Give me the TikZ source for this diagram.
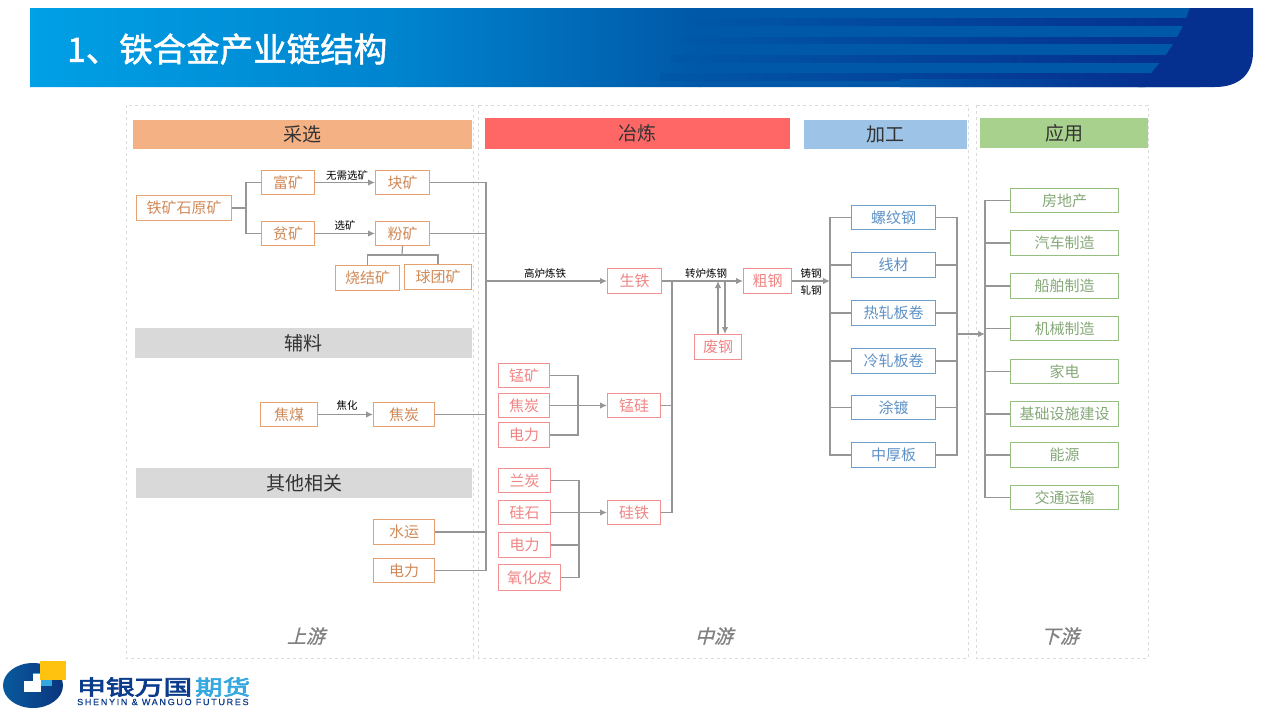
\documentclass[tikz,border=0pt]{standalone}
\usepackage{fontspec}
\usetikzlibrary{arrows.meta,calc}
\setmainfont{Noto Sans CJK SC}
\newfontfamily\slantcjk[FakeSlant=0.25,FakeBold=0.6]{Noto Sans CJK SC}
\newfontfamily\boldcjk[FakeBold=1.5]{Noto Sans CJK SC}
\newfontfamily\logocjk[FakeBold=3]{Noto Sans CJK SC}
\newfontfamily\latinbold[LetterSpace=19,FakeBold=0.5]{Liberation Sans}
\definecolor{orangeB}{HTML}{E6A06E}\definecolor{orangeT}{HTML}{D08A58}
\definecolor{pinkB}{HTML}{F09090}\definecolor{pinkT}{HTML}{F08585}
\definecolor{blueB}{HTML}{6F9FCB}\definecolor{blueT}{HTML}{5F92C6}
\definecolor{greenB}{HTML}{95BF80}\definecolor{greenT}{HTML}{85A878}
\definecolor{wire}{HTML}{969696}
\definecolor{bdark}{HTML}{05308F}\definecolor{bmid}{HTML}{0058A8}
\definecolor{blight}{HTML}{00A0E6}\definecolor{bhalf}{HTML}{0084CE}
\definecolor{hOrange}{HTML}{F4B183}\definecolor{hRed}{HTML}{FF6666}
\definecolor{hBlue}{HTML}{9DC3E6}\definecolor{hGreen}{HTML}{A9D18E}\definecolor{hGray}{HTML}{D9D9D9}
\definecolor{logoDark}{HTML}{0B3C8C}\definecolor{logoSky}{HTML}{35A8E0}\definecolor{logoYel}{HTML}{FFC20E}
\tikzset{
  boxbase/.style={draw,fill=white,line width=1pt,inner sep=0pt,font=\fontsize{15}{15}\selectfont},
  obox/.style={boxbase,draw=orangeB,text=orangeT},
  pbox/.style={boxbase,draw=pinkB,text=pinkT},
  bbox/.style={boxbase,draw=blueB,text=blueT},
  gbox/.style={boxbase,draw=greenB,text=greenT},
  head/.style={inner sep=0pt,text=black!80,font=\fontsize{19}{19}\selectfont},
  panel/.style={draw=black!14,dashed,line width=0.7pt,fill=white},
  wirel/.style={draw=wire,line width=1.2pt},
  arr/.style={wirel,-{Latex[length=7pt,width=6.5pt]}},
  tag/.style={inner sep=0pt,text=black,font=\fontsize{10.5}{10.5}\selectfont},
  stream/.style={inner sep=0pt,text=black!50,font=\fontsize{19}{19}\selectfont\slantcjk},
  stripe/.style={left color=bmid,middle color=bdark!85!bmid,right color=bdark},
}
\newcommand{\bx}[7]{\node[#6,minimum width={(#4-#2-1)*1pt},minimum height={(#5-#3-1)*1pt}] (#1) at ({(#2+#4)/2},{(#3+#5)/2}) {#7};}
\newcommand{\hd}[7]{\node[head,fill=#6,minimum width={(#4-#2)*1pt},minimum height={(#5-#3)*1pt}] (#1) at ({(#2+#4)/2},{(#3+#5)/2}) {#7};}
\begin{document}
\begin{tikzpicture}[x=1pt,y=-1pt]
\useasboundingbox (0,0) rectangle (1280,720);
\fill[white] (0,0) rectangle (1280,720);
% banner
\begin{scope}
\clip (30,8) -- (1253,8) -- (1253,52) .. controls (1253,75) and (1238,87) .. (1215,87) -- (30,87) -- cycle;
\shade[left color=blight,right color=bhalf] (30,8) rectangle (400,88);
\shade[left color=bhalf,right color=bmid] (399,8) rectangle (700,88);
\fill[bmid] (699,8) rectangle (1200,88);
\shade[stripe] (690,18) rectangle (1186,25);
\shade[stripe] (680,37) rectangle (1180,43);
\shade[stripe] (670,55) rectangle (1165,62);
\shade[stripe] (660,73) rectangle (1150,80);
\shade[stripe] (900,79.5) rectangle (1145,88);
\fill[bdark] (1190,7) -- (1254,7) -- (1254,88) -- (1137,88) .. controls (1160,65) and (1180,40) .. (1190,7) -- cycle;
\end{scope}
\node[inner sep=0pt,anchor=west,text=white,font=\fontsize{33.5}{33.5}\selectfont\boldcjk] (title) at (67,49) {1、铁合金产业链结构};
% panels
\path[panel] (126,105) rectangle (473,658);
\path[panel] (478,105) rectangle (968,658);
\path[panel] (976,105) rectangle (1148,658);
% headers
\hd{hA}{133}{120}{472}{149}{hOrange}{采选}
\hd{hB}{135}{328}{472}{358}{hGray}{辅料}
\hd{hC}{136}{468}{472}{498}{hGray}{其他相关}
\hd{hD}{485}{118}{790}{149}{hRed}{冶炼}
\hd{hE}{804}{120}{967}{149}{hBlue}{加工}
\hd{hF}{980}{118}{1148}{148}{hGreen}{应用}
\node[stream] (up) at (306,636) {上游};
\node[stream] (mid) at (714,636) {中游};
\node[stream] (down) at (1060,636) {下游};
% bus coordinates
\coordinate (splitA) at (246,208);
\coordinate (busU) at (486,281);
\coordinate (busS) at (672,281);
\coordinate (busMn) at (578,405);
\coordinate (busSi) at (579,513);
\coordinate (busL) at (830,281);
\coordinate (busR) at (957,334);
\coordinate (busG) at (985,334);
\coordinate (sinterJ) at (402,255);
\coordinate (scrapUp) at (718,281);
\coordinate (scrapDown) at (725,281);
% orange boxes
\bx{ore}{136}{195}{232}{221}{obox}{铁矿石原矿}
\bx{rich}{261}{170}{315}{195}{obox}{富矿}
\bx{lump}{375}{170}{430}{195}{obox}{块矿}
\bx{poor}{261}{221}{315}{246}{obox}{贫矿}
\bx{fine}{375}{221}{430}{246}{obox}{粉矿}
\bx{sinter}{335}{265}{400}{291}{obox}{烧结矿}
\bx{pellet}{404}{264}{472}{290}{obox}{球团矿}
\bx{coal}{260}{402}{318}{427}{obox}{焦煤}
\bx{coke}{373}{402}{435}{427}{obox}{焦炭}
\bx{water}{373}{519}{435}{545}{obox}{水运}
\bx{powerA}{373}{558}{435}{583}{obox}{电力}
% pink boxes
\bx{pig}{607}{268}{662}{294}{pbox}{生铁}
\bx{crude}{743}{268}{792}{294}{pbox}{粗钢}
\bx{scrap}{694}{334}{742}{360}{pbox}{废钢}
\bx{mnore}{498}{363}{550}{388}{pbox}{锰矿}
\bx{cokeB}{498}{393}{550}{418}{pbox}{焦炭}
\bx{powerB}{498}{422}{550}{448}{pbox}{电力}
\bx{simn}{607}{393}{661}{418}{pbox}{锰硅}
\bx{semi}{498}{468}{551}{493}{pbox}{兰炭}
\bx{silica}{498}{500}{551}{525}{pbox}{硅石}
\bx{powerC}{498}{532}{551}{558}{pbox}{电力}
\bx{scale}{498}{564}{561}{591}{pbox}{氧化皮}
\bx{fesi}{607}{500}{661}{525}{pbox}{硅铁}
% blue boxes
\bx{rebar}{851}{205}{936}{230}{bbox}{螺纹钢}
\bx{wirerod}{851}{252}{936}{278}{bbox}{线材}
\bx{hot}{851}{300}{936}{326}{bbox}{热轧板卷}
\bx{cold}{851}{348}{936}{374}{bbox}{冷轧板卷}
\bx{coat}{851}{395}{936}{420}{bbox}{涂镀}
\bx{plate}{851}{442}{936}{468}{bbox}{中厚板}
% green boxes
\bx{g1}{1010}{188}{1119}{213}{gbox}{房地产}
\bx{g2}{1010}{230}{1119}{256}{gbox}{汽车制造}
\bx{g3}{1010}{273}{1119}{299}{gbox}{船舶制造}
\bx{g4}{1010}{316}{1119}{341}{gbox}{机械制造}
\bx{g5}{1010}{359}{1119}{384}{gbox}{家电}
\bx{g6}{1010}{401}{1119}{427}{gbox}{基础设施建设}
\bx{g7}{1010}{442}{1119}{468}{gbox}{能源}
\bx{g8}{1010}{485}{1119}{510}{gbox}{交通运输}
% connectors: mining
\draw[wirel] (ore.east) -- (splitA);
\draw[wirel] (rich.west) -| (splitA) |- (poor.west);
\draw[arr] (rich.east) -- (lump.west);
\draw[arr] (poor.east) -- (fine.west);
\draw[wirel] (fine.south) -- (sinterJ);
\draw[wirel] (sinter.north) |- (sinterJ) -| (pellet.north);
\draw[arr] (coal.east) -- (coke.west);
% upstream bus
\draw[wirel] (lump.east) -| (busU);
\draw[wirel] (fine.east) -| (busU);
\draw[wirel] (coke.east) -| (busU);
\draw[wirel] (water.east) -| (busU);
\draw[wirel] (powerA.east) -| (busU);
\draw[arr] (busU) -- (pig.west);
% smelting
\draw[arr] (pig.east) -- (crude.west);
\draw[wirel] (simn.east) -| (busS);
\draw[wirel] (fesi.east) -| (busS);
\draw[arr] (scrap.north -| scrapUp) -- (scrapUp);
\draw[arr] (scrapDown) -- (scrap.north -| scrapDown);
\draw[wirel] (mnore.east) -| (busMn);
\draw[wirel] (powerB.east) -| (busMn);
\draw[arr] (cokeB.east) -- (simn.west);
\draw[wirel] (semi.east) -| (busSi);
\draw[wirel] (powerC.east) -| (busSi);
\draw[wirel] (scale.east) -| (busSi);
\draw[arr] (silica.east) -- (fesi.west);
% processing
\draw[arr] (crude.east) -- (busL);
\foreach \n in {rebar,wirerod,hot,cold,coat,plate}{
  \draw[wirel] (\n.west) -| (busL);
  \draw[wirel] (\n.east) -| (busR);
}
\draw[arr] (busR) -- (busG);
\foreach \n in {g1,g2,g3,g4,g5,g6,g7,g8}{
  \draw[wirel] (\n.west) -| (busG);
}
% connector labels
\node[tag] (t1) at (347,175) {无需选矿};
\node[tag] (t2) at (345,225) {选矿};
\node[tag] (t3) at (347,405) {焦化};
\node[tag] (t4) at (545,274) {高炉炼铁};
\node[tag] (t5) at (706,274) {转炉炼钢};
\node[tag] (t6) at (811,273) {铸钢};
\node[tag] (t7) at (811,291) {轧钢};
% logo
\shade[left color=logoDark!85!cyan,right color=logoDark!90!black] (33,685.5) ellipse [x radius=30,y radius=22.5];
\fill[logoSky] (33,673) rectangle (52,686);
\fill[white] (24,681) rectangle (41,692);
\fill[white] (33,674) rectangle (41,682);
\fill[logoYel] (40,661) rectangle (66,680);
\node[inner sep=0pt,anchor=west,text=logoDark,font=\fontsize{21}{21}\selectfont\logocjk] (logoA) at (77,687) {\scalebox{1.37}[1]{申银万国}};
\node[inner sep=0pt,anchor=west,text=logoSky,font=\fontsize{21}{21}\selectfont\logocjk] (logoB) at (195,687) {\scalebox{1.31}[1]{期货}};
\node[inner sep=0pt,anchor=west,text=logoDark,font=\fontsize{9}{9}\selectfont\latinbold] (logoC) at (77,702) {SHENYIN \& WANGUO FUTURES};
\end{tikzpicture}
\end{document}
